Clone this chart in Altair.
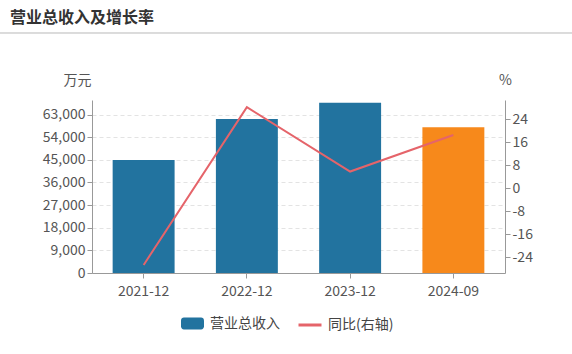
import altair as alt
import pandas as pd

dates = ["2021-12", "2022-12", "2023-12", "2024-09"]
revenue = [44900, 61200, 67700, 58000]
yoy = [-26.7, 28.2, 5.8, 18.5]
left_ticks = [0, 9000, 18000, 27000, 36000, 45000, 54000, 63000]
right_ticks = [-24, -16, -8, 0, 8, 16, 24]

df = pd.DataFrame({
    "date": dates,
    "revenue": revenue,
    "yoy": yoy,
    "s1": ["营业总收入"] * 4,
    "s2": ["同比(右轴)"] * 4,
})

FONT = "Noto Sans CJK SC"
W, H = 413, 173

rect_path = ("M-0.75,-0.52 L0.75,-0.52 A0.25,0.25 0 0 1 1,-0.27 L1,0.27 "
             "A0.25,0.25 0 0 1 0.75,0.52 L-0.75,0.52 A0.25,0.25 0 0 1 -1,0.27 "
             "L-1,-0.27 A0.25,0.25 0 0 1 -0.75,-0.52 Z")

x = alt.X("date:N", sort=dates, title=None,
          scale=alt.Scale(paddingInner=0.4, paddingOuter=0.2),
          axis=alt.Axis(labelAngle=0, labelFontSize=14, labelColor="#555",
                        domainColor="#999", tickColor="#999", tickSize=5,
                        labelPadding=6, grid=False))

bars = alt.Chart(df).mark_bar().encode(
    x=x,
    y=alt.Y("revenue:Q", scale=alt.Scale(domain=[0, 68800], nice=False, zero=True),
            axis=alt.Axis(values=left_ticks, format=",d", title="万元",
                          titleAngle=0, titleX=-15, titleY=-20, titleAlign="center",
                          titleBaseline="middle", titleFontSize=14, titleFontWeight="normal",
                          titleColor="#555", labelFontSize=14, labelColor="#555",
                          domainColor="#999", tickColor="#999", tickSize=5,
                          grid=True, gridDash=[4, 3], gridColor="#e3e3e3")),
    color=alt.condition(
        "datum.date == '2024-09'",
        alt.value("#f7891b"),
        alt.Color("s1:N", scale=alt.Scale(range=["#22739f"]),
                  legend=alt.Legend(title=None, orient="none", legendX=89, legendY=212,
                                    symbolType=rect_path, symbolSize=529,
                                    symbolStrokeWidth=0, symbolOpacity=1,
                                    labelFontSize=14, labelColor="#444", labelFont=FONT,
                                    labelOffset=6)),
    ),
)

line = alt.Chart(df).mark_line(strokeWidth=2).encode(
    x=x,
    y=alt.Y("yoy:Q", scale=alt.Scale(domain=[-29.5, 30.7], nice=False, zero=False),
            axis=alt.Axis(values=right_ticks, orient="right", title="%",
                          labelExpr="datum.value + ''",
                          titleAngle=0, titleX=0, titleY=-20, titleAlign="center",
                          titleBaseline="middle", titleFontSize=14, titleFontWeight="normal",
                          titleColor="#555", labelFontSize=14, labelColor="#555",
                          domainColor="#999", tickColor="#999", tickSize=5, grid=False)),
    stroke=alt.Stroke("s2:N", scale=alt.Scale(range=["#e5646a"]),
                      legend=alt.Legend(title=None, orient="none", legendX=205, legendY=212,
                                        symbolType="stroke", symbolSize=529,
                                        symbolStrokeWidth=3,
                                        labelFontSize=14, labelColor="#444", labelFont=FONT,
                                        labelOffset=5)),
)

sep = alt.Chart(df).mark_rule(color="#d9d9d9", strokeWidth=1).encode(
    x=alt.value(-92), x2=alt.value(480), y=alt.value(-67)
)

chart = alt.layer(bars, line, sep).resolve_scale(
    y="independent", color="independent", stroke="independent"
).properties(
    width=W, height=H,
    title=alt.Title("营业总收入及增长率", anchor="start", frame="group",
                    fontSize=16, fontWeight="bold", color="#333", font=FONT,
                    dx=-82, offset=7),
    autosize=alt.AutoSizeParams(type="none"),
    padding={"left": 92, "top": 100, "right": 67, "bottom": 81},
).configure(font=FONT).configure_view(stroke=None).configure_axis(labelFont=FONT, titleFont=FONT)

chart.save("out.html", embed_options={"renderer": "svg", "actions": False})
